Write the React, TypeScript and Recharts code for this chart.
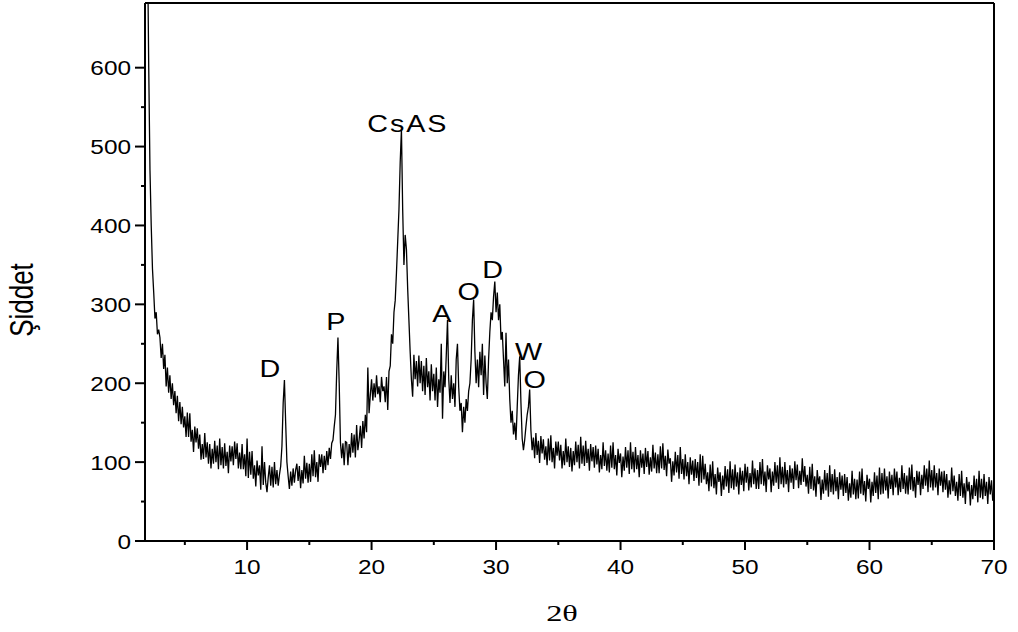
import React from 'react';
import { LineChart, Line, XAxis, YAxis, ReferenceLine, ReferenceDot } from 'recharts';

const START_2THETA = 2.0;
const STEP_2THETA = 0.1;

// 2.0 .. 9.9
const intensity02to10 = [
  760, 600, 470, 400, 345, 315, 282, 290, 262, 268,
  258, 232, 250, 218, 236, 196, 220, 188, 210, 180,
  200, 172, 190, 162, 184, 152, 176, 148, 170, 144,
  158, 132, 163, 132, 162, 126, 141, 113, 145, 125,
  143, 117, 135, 103, 123, 104, 137, 106, 125, 98,
  123, 92, 117, 98, 127, 100, 121, 91, 130, 96,
  119, 92, 124, 95, 113, 86, 121, 101, 120, 96,
  126, 104, 124, 92, 112, 91, 123, 91, 110, 82,
];
// 10.0 .. 19.9
const intensity10to20 = [
  130, 80, 113, 84, 114, 79, 96, 69, 102, 83,
  96, 65, 120, 71, 100, 74, 62, 81, 96, 70,
  94, 68, 100, 72, 90, 70, 84, 95, 120, 175,
  204, 150, 100, 82, 66, 88, 70, 92, 74, 90,
  98, 76, 95, 67, 90, 73, 108, 79, 99, 74,
  98, 75, 110, 82, 115, 81, 100, 75, 110, 94,
  110, 86, 108, 90, 114, 96, 118, 104, 124, 128,
  145, 160, 215, 258, 200, 125, 105, 124, 96, 126,
  125, 96, 123, 106, 137, 112, 135, 106, 147, 115,
  128, 146, 118, 152, 130, 160, 138, 220, 162, 185,
];
// 20.0 .. 29.9
const intensity20to30 = [
  205, 178, 200, 182, 210, 186, 196, 176, 208, 190,
  196, 176, 208, 166, 215, 222, 262, 250, 290, 305,
  340, 380, 420, 480, 522, 420, 350, 388, 370, 320,
  280, 240, 205, 183, 236, 205, 228, 196, 235, 200,
  228, 190, 222, 185, 232, 195, 215, 178, 224, 190,
  212, 178, 220, 170, 205, 188, 250, 155, 215, 195,
  235, 280, 205, 175, 210, 180, 200, 170, 230, 250,
  195, 165, 175, 138, 170, 150, 180, 165, 190, 200,
  230, 280, 306, 240, 200, 230, 195, 240, 210, 250,
  185, 235, 200, 180, 230, 265, 290, 280, 310, 329,
];
// 30.0 .. 39.9
const intensity30to40 = [
  290, 315, 280, 300, 255, 265, 230, 196, 264, 200,
  230, 180, 150, 165, 135, 150, 128, 170, 210, 234,
  175, 130, 115, 128, 145, 160, 170, 192, 140, 115,
  131, 105, 137, 109, 127, 99, 133, 111, 129, 103,
  120, 96, 130, 102, 134, 100, 118, 92, 126, 108,
  126, 102, 122, 92, 114, 96, 130, 100, 120, 94,
  118, 88, 114, 96, 126, 100, 122, 92, 132, 98,
  121, 95, 127, 99, 117, 89, 123, 101, 119, 93,
  121, 97, 117, 87, 109, 91, 125, 95, 115, 89,
  111, 87, 121, 93, 125, 91, 109, 83, 117, 99,
];
// 40.0 .. 49.9
const intensity40to50 = [
  111, 81, 107, 89, 119, 93, 115, 85, 125, 91,
  113, 87, 119, 91, 109, 81, 115, 93, 111, 85,
  118, 94, 114, 84, 106, 88, 122, 92, 112, 86,
  110, 86, 120, 92, 124, 90, 108, 82, 116, 98,
  105, 75, 101, 83, 113, 87, 109, 79, 119, 85,
  104, 78, 110, 82, 100, 72, 106, 84, 102, 76,
  104, 80, 100, 70, 110, 74, 108, 78, 98, 72,
  87, 63, 97, 69, 101, 67, 85, 59, 93, 75,
  87, 57, 83, 65, 95, 69, 91, 61, 101, 67,
  91, 65, 97, 69, 87, 59, 93, 71, 89, 63,
];
// 50.0 .. 59.9
const intensity50to60 = [
  98, 74, 94, 64, 86, 68, 102, 72, 92, 66,
  90, 66, 100, 72, 104, 70, 88, 62, 96, 78,
  92, 62, 88, 70, 100, 74, 96, 66, 106, 72,
  94, 68, 100, 72, 90, 62, 96, 74, 92, 66,
  101, 77, 97, 67, 89, 71, 105, 75, 95, 69,
  84, 60, 94, 66, 98, 64, 82, 56, 90, 72,
  82, 52, 78, 60, 90, 64, 86, 56, 96, 62,
  85, 59, 91, 63, 81, 53, 87, 65, 83, 57,
  85, 61, 81, 51, 73, 55, 89, 59, 79, 53,
  78, 54, 88, 60, 92, 58, 76, 50, 84, 66,
];
// 60.0 .. 70.0
const intensity60to70 = [
  79, 49, 75, 57, 87, 61, 83, 53, 93, 59,
  86, 60, 92, 64, 82, 54, 88, 66, 84, 58,
  92, 68, 88, 58, 80, 62, 96, 66, 86, 60,
  83, 59, 93, 65, 97, 63, 81, 55, 89, 71,
  88, 58, 84, 66, 96, 70, 92, 62, 102, 68,
  90, 64, 96, 68, 86, 58, 92, 70, 88, 62,
  89, 65, 85, 55, 77, 59, 93, 63, 83, 57,
  75, 51, 85, 57, 89, 55, 73, 47, 81, 63,
  75, 45, 71, 53, 83, 57, 79, 49, 89, 55,
  79, 53, 85, 57, 75, 47, 81, 59, 77, 51,
  56,
];

const intensity = [
  ...intensity02to10,
  ...intensity10to20,
  ...intensity20to30,
  ...intensity30to40,
  ...intensity40to50,
  ...intensity50to60,
  ...intensity60to70,
];

const data = intensity.map((v, i) => ({
  twoTheta: Math.round((START_2THETA + i * STEP_2THETA) * 10) / 10,
  counts: v,
}));

const xTicks = [5, 10, 15, 20, 25, 30, 35, 40, 45, 50, 55, 60, 65, 70];
const yTicks = [0, 50, 100, 150, 200, 250, 300, 350, 400, 450, 500, 550, 600];

// phase labels and their anchor (2θ, intensity) in data space
const peakLabels = ['D', 'P', 'CsAS', 'A', 'O', 'D', 'W', 'O'];
const peakLabelTwoTheta = [11.83, 17.13, 22.91, 25.64, 27.8, 29.73, 32.62, 33.1];
const peakLabelIntensity = [208, 268, 519, 278, 306, 334, 230, 194];

const X_DOMAIN: [number, number] = [1.8, 70];
const Y_DOMAIN: [number, number] = [0, 682];

// ---- styling ----
const FONT = '"Liberation Sans", Arial, Helvetica, sans-serif';
const SERIF = '"Liberation Serif", "Times New Roman", serif';
const SX = 1.25;

function SText(props: any) {
  const { x, y, size, anchor = 'middle', family = FONT, sx = SX, children, spacing } = props;
  return (
    <text
      transform={`translate(${x},${y}) scale(${sx},1)`}
      x={0}
      y={0}
      textAnchor={anchor}
      fontSize={size}
      fontFamily={family}
      letterSpacing={spacing}
      fill="#000"
    >
      {children}
    </text>
  );
}

function XTick(props: any) {
  const { x, y, payload } = props;
  const v = payload.value;
  const major = v % 10 === 0;
  return (
    <g>
      <line x1={x} x2={x} y1={y} y2={y + (major ? 9 : 4)} stroke="#000" strokeWidth={2} />
      {major && (
        <SText x={x} y={y + 32.5} size={19.5}>
          {v}
        </SText>
      )}
    </g>
  );
}

function YTick(props: any) {
  const { x, y, payload } = props;
  const v = payload.value;
  const major = v % 100 === 0;
  return (
    <g>
      <line x1={x - (major ? 10 : 4)} x2={x} y1={y} y2={y} stroke="#000" strokeWidth={2} />
      {major && (
        <SText x={x - 14} y={y + 7.5} size={19.5} anchor="end">
          {v}
        </SText>
      )}
    </g>
  );
}

export default function App() {
  return (
    <div style={{ position: 'absolute', left: 0, top: 0, width: 1018, height: 632, background: '#fff' }}>
      <LineChart
        width={1018}
        height={632}
        data={data}
        margin={{ top: 3, right: 24, left: 0, bottom: 0 }}
      >
        <XAxis
          dataKey="twoTheta"
          type="number"
          domain={X_DOMAIN}
          allowDataOverflow
          ticks={xTicks}
          interval={0}
          height={91}
          tickSize={0}
          tickMargin={0}
          tickLine={false}
          axisLine={{ stroke: '#000', strokeWidth: 2 }}
          tick={<XTick />}
          label={() => (
            <SText x={562} y={621} size={24} family={SERIF} sx={1.35}>
              2θ
            </SText>
          )}
        />
        <YAxis
          type="number"
          domain={Y_DOMAIN}
          allowDataOverflow
          ticks={yTicks}
          interval={0}
          width={145}
          tickSize={0}
          tickMargin={0}
          tickLine={false}
          axisLine={{ stroke: '#000', strokeWidth: 2 }}
          tick={<YTick />}
          label={() => (
            <text
              transform="translate(33,300) rotate(-90) scale(1,1.25)"
              textAnchor="middle"
              fontSize={26}
              fontFamily={FONT}
              fill="#000"
            >
              Şiddet
            </text>
          )}
        />
        <ReferenceLine y={Y_DOMAIN[1]} stroke="#000" strokeWidth={2} />
        <ReferenceLine x={X_DOMAIN[1]} stroke="#000" strokeWidth={2} />
        <Line
          type="linear"
          dataKey="counts"
          stroke="#000"
          strokeWidth={1.3}
          dot={false}
          isAnimationActive={false}
        />
        {peakLabels.map((t, i) => (
          <ReferenceDot
            key={i}
            x={peakLabelTwoTheta[i]}
            y={peakLabelIntensity[i]}
            r={0}
            shape={(p: any) => (
              <SText x={p.cx} y={p.cy} size={23} spacing={t.length > 1 ? 1.5 : undefined}>
                {t}
              </SText>
            )}
          />
        ))}
      </LineChart>
    </div>
  );
}
